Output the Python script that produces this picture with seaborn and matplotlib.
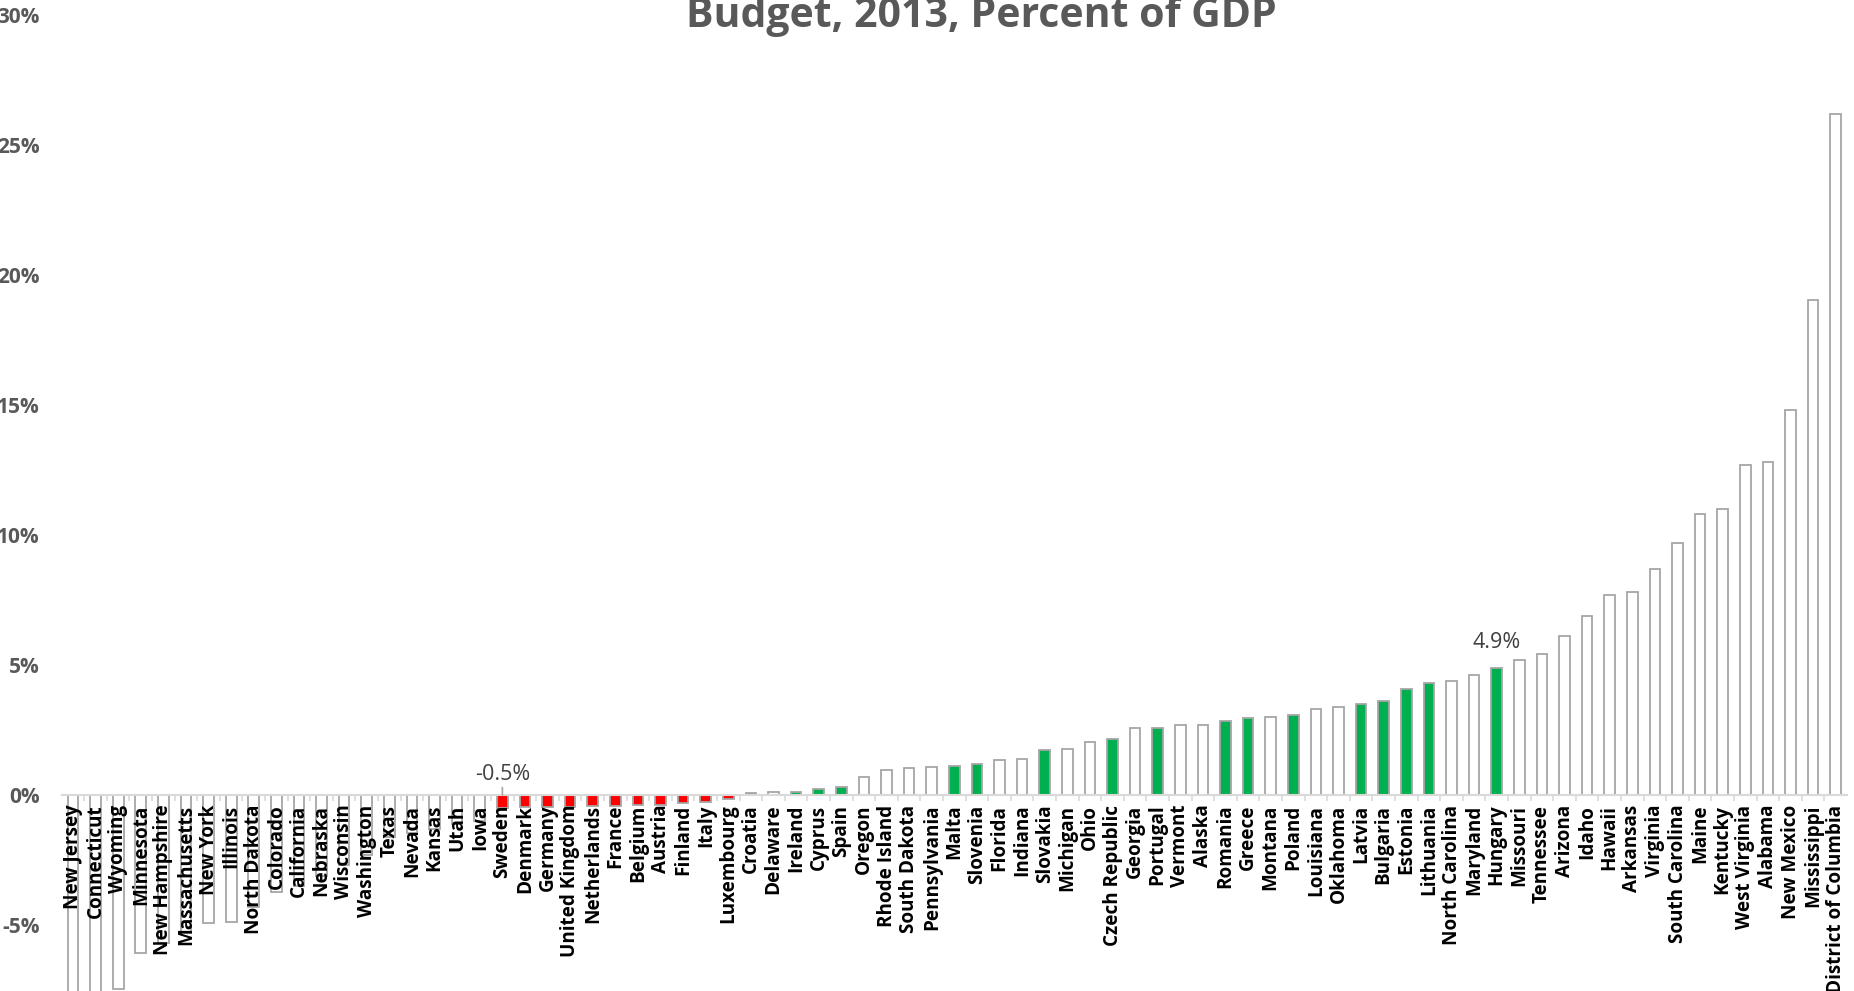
import pandas as pd
import matplotlib
matplotlib.use("Agg")
import matplotlib.pyplot as plt
import seaborn as sns

plt.rcParams["font.family"] = ["Open Sans", "DejaVu Sans"]

# regions, sorted by balance (percent of GDP)
names = [
    "New Jersey", "Connecticut", "Wyoming", "Minnesota", "New Hampshire",
    "Massachusetts", "New York", "Illinois", "North Dakota", "Colorado",
    "California", "Nebraska", "Wisconsin", "Washington", "Texas", "Nevada",
    "Kansas", "Utah", "Iowa", "Sweden", "Denmark", "Germany", "United Kingdom",
    "Netherlands", "France", "Belgium", "Austria", "Finland", "Italy",
    "Luxembourg", "Croatia", "Delaware", "Ireland", "Cyprus", "Spain", "Oregon",
    "Rhode Island", "South Dakota", "Pennsylvania", "Malta", "Slovenia",
    "Florida", "Indiana", "Slovakia", "Michigan", "Ohio", "Czech Republic",
    "Georgia", "Portugal", "Vermont", "Alaska", "Romania", "Greece", "Montana",
    "Poland", "Louisiana", "Oklahoma", "Latvia", "Bulgaria", "Estonia",
    "Lithuania", "North Carolina", "Maryland", "Hungary", "Missouri",
    "Tennessee", "Arizona", "Idaho", "Hawaii", "Arkansas", "Virginia",
    "South Carolina", "Maine", "Kentucky", "West Virginia", "Alabama",
    "New Mexico", "Mississippi", "District of Columbia",
]
values = [
    -8.6, -7.9, -7.45, -6.08, -5.7,
    -5.3, -4.93, -4.88, -4.3, -3.73,
    -3.5, -3.1, -2.7, -2.3, -1.6, -1.45,
    -1.3, -1.1, -1.0, -0.51, -0.48, -0.47, -0.45,
    -0.42, -0.41, -0.40, -0.39, -0.32, -0.28,
    -0.16, 0.07, 0.10, 0.13, 0.22, 0.29, 0.68,
    0.95, 1.05, 1.06, 1.13, 1.19,
    1.36, 1.40, 1.74, 1.76, 2.03, 2.14,
    2.58, 2.59, 2.69, 2.71, 2.86, 2.95, 3.01,
    3.09, 3.32, 3.38, 3.49, 3.63, 4.08,
    4.32, 4.38, 4.63, 4.87, 5.19,
    5.41, 6.1, 6.9, 7.7, 7.8, 8.7,
    9.7, 10.8, 11.0, 12.7, 12.8,
    14.8, 19.04, 26.19,
]
eu_countries = [
    "Sweden", "Denmark", "Germany", "United Kingdom", "Netherlands", "France",
    "Belgium", "Austria", "Finland", "Italy", "Luxembourg", "Croatia",
    "Ireland", "Cyprus", "Spain", "Malta", "Slovenia", "Slovakia",
    "Czech Republic", "Portugal", "Romania", "Greece", "Poland", "Latvia",
    "Bulgaria", "Estonia", "Lithuania", "Hungary",
]

df = pd.DataFrame({"name": names, "value": values})
df["kind"] = "us"
eu = df["name"].isin(eu_countries)
df.loc[eu & (df["value"] < 0), "kind"] = "eu_neg"
df.loc[eu & (df["value"] >= 0), "kind"] = "eu_pos"

colors = {"us": "#ffffff", "eu_neg": "#ff0000", "eu_pos": "#00b050"}

fig = plt.figure(figsize=(18.54, 9.91), dpi=100)
ax = fig.add_axes([61.7 / 1854, 0, (1847 - 61.7) / 1854, 1])

sns.barplot(data=df, x="name", y="value", hue="kind", order=names,
            palette=colors, saturation=1, dodge=False, width=0.47,
            edgecolor="#a6a6a6", linewidth=1.3, legend=False, ax=ax)

ax.set_xlim(-0.5, len(names) - 0.5)
ax.set_ylim(-7.54, 30.58)
ax.set_yticks([-5, 0, 5, 10, 15, 20, 25, 30])
ax.set_yticklabels([f"{t}%" for t in [-5, 0, 5, 10, 15, 20, 25, 30]])
ax.set_xlabel("")
ax.set_ylabel("")

for s in ["top", "right", "left"]:
    ax.spines[s].set_visible(False)
ax.spines["bottom"].set_position(("data", 0))
ax.spines["bottom"].set_color("#d9d9d9")
ax.spines["bottom"].set_linewidth(1.5)

ax.tick_params(axis="y", length=0, pad=16, labelsize=15, labelcolor="#595959")
for lab in ax.get_yticklabels():
    lab.set_fontweight("bold")

ax.tick_params(axis="x", which="major", length=0, pad=7, labelsize=13.6,
               labelcolor="black", labelrotation=90)
for lab in ax.get_xticklabels():
    lab.set_fontweight("bold")
    lab.set_va("top")
ax.set_xticks([i + 0.5 for i in range(len(names) - 1)], minor=True)
ax.tick_params(axis="x", which="minor", length=4.5, width=1.2, color="#d9d9d9")

# data labels
i_swe = names.index("Sweden")
ax.annotate("-0.5%", xy=(i_swe, 0), xytext=(i_swe, 0.8), ha="center",
            va="center", fontsize=15.5, color="#404040",
            arrowprops=dict(arrowstyle="-", color="#a6a6a6", lw=1.2,
                            shrinkA=6, shrinkB=0))
i_hun = names.index("Hungary")
ax.text(i_hun, 5.88, "4.9%", ha="center", va="center", fontsize=15.5,
        color="#404040")

fig.text(981 / 1854, 0.973, "Budget, 2013, Percent of GDP", ha="center",
         va="baseline", fontsize=29.5, fontweight="bold", color="#595959")

fig.savefig("out.png", dpi=100)
